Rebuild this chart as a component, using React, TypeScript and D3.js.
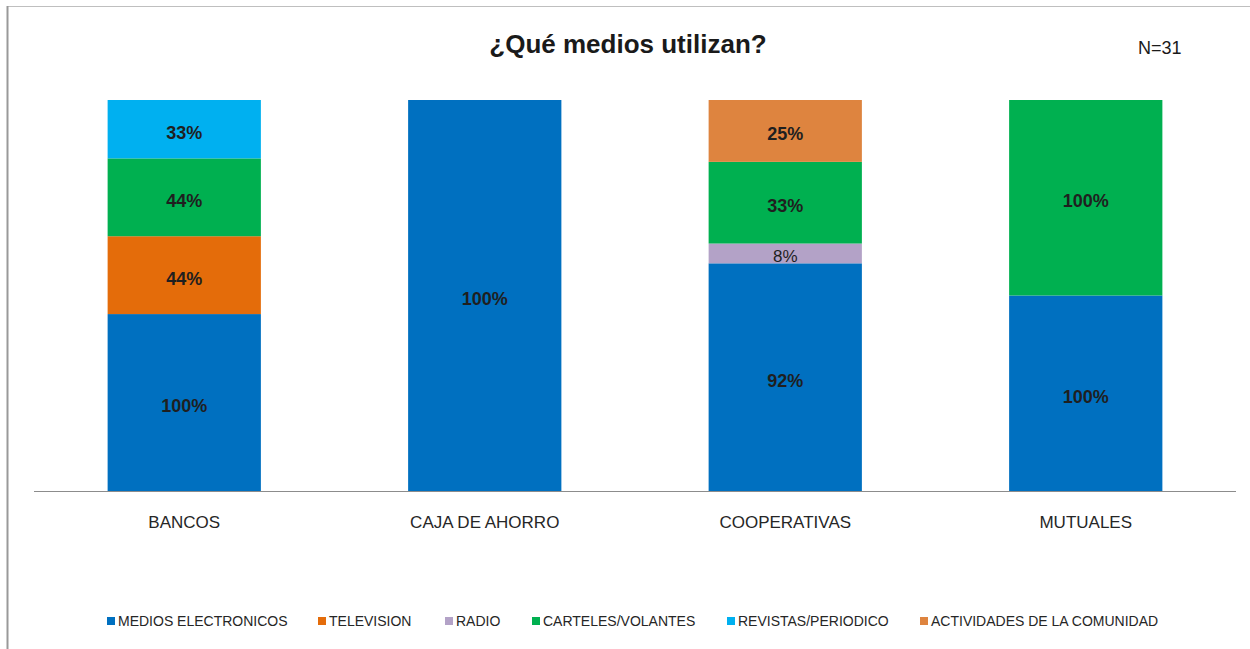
import * as d3 from 'd3';
import React, { useEffect, useRef } from 'react';

// categories and series values
const categories = ['BANCOS', 'CAJA DE AHORRO', 'COOPERATIVAS', 'MUTUALES'];
const seriesNames = [
  'MEDIOS ELECTRONICOS',
  'TELEVISION',
  'RADIO',
  'CARTELES/VOLANTES',
  'REVISTAS/PERIODICO',
  'ACTIVIDADES DE LA COMUNIDAD',
];
const mediosElectronicos = [100, 100, 92, 100];
const television = [44, 0, 0, 0];
const radio = [0, 0, 8, 0];
const carteles = [44, 0, 33, 100];
const revistas = [33, 0, 0, 0];
const actividades = [0, 0, 25, 0];
const seriesColors = ['#0070C0', '#E46C0A', '#B3A2C7', '#00B050', '#00B0F0', '#DE843F'];

const W = 1250;
const H = 649;
const FONT = "'Liberation Sans', Arial, sans-serif";

const App: React.FC = () => {
  const svgRef = useRef<SVGSVGElement>(null);

  useEffect(() => {
    if (!svgRef.current) return;
    const svg = d3.select(svgRef.current);
    svg.selectAll('*').remove();

    const seriesValues = [mediosElectronicos, television, radio, carteles, revistas, actividades];
    const rows = categories.map((c, i) => {
      const row: Record<string, any> = { cat: c };
      seriesNames.forEach((s, j) => (row[s] = seriesValues[j][i]));
      return row;
    });

    // 100% stacked: each bar normalised to its own total
    const stacked = d3.stack<Record<string, any>>()
      .keys(seriesNames)
      .offset(d3.stackOffsetExpand)(rows);

    // chart frame
    svg.append('rect').attr('width', W).attr('height', H).attr('fill', 'white');
    svg.append('line')
      .attr('x1', 7).attr('x2', W).attr('y1', 6.5).attr('y2', 6.5)
      .attr('stroke', '#BFBFBF').attr('stroke-width', 1.2);
    svg.append('line')
      .attr('x1', 7.5).attr('x2', 7.5).attr('y1', 6).attr('y2', H)
      .attr('stroke', '#999').attr('stroke-width', 2);

    const x = d3.scaleBand().domain(categories).range([34, 1236]).paddingInner(0.49).paddingOuter(0.245);
    const y = d3.scaleLinear().domain([0, 1]).range([491, 100]);
    const color = d3.scaleOrdinal<string, string>().domain(seriesNames).range(seriesColors);

    const layers = svg.append('g')
      .selectAll('g')
      .data(stacked)
      .join('g')
      .attr('fill', d => color(d.key));

    layers.selectAll('rect')
      .data(d => d.filter(p => p[1] - p[0] > 0))
      .join('rect')
      .attr('x', d => x(d.data.cat as string)!)
      .attr('width', x.bandwidth())
      .attr('y', d => y(d[1]))
      .attr('height', d => y(d[0]) - y(d[1]));

    // value labels
    stacked.forEach((layer, j) => {
      layer.forEach((p, i) => {
        const v = seriesValues[j][i];
        if (!v) return;
        const h = y(p[0]) - y(p[1]);
        svg.append('text')
          .attr('x', x(categories[i])! + x.bandwidth() / 2)
          .attr('y', (y(p[0]) + y(p[1])) / 2 + (h < 30 ? 8.5 : 9.5))
          .attr('text-anchor', 'middle')
          .style('font-family', FONT)
          .style('font-size', h < 30 ? '17px' : '18px')
          .style('font-weight', h < 30 ? 'normal' : 'bold')
          .attr('fill', '#1F1F1F')
          .text(`${v}%`);
      });
    });

    // x axis
    svg.append('line')
      .attr('x1', 34).attr('x2', 1236).attr('y1', 491.5).attr('y2', 491.5)
      .attr('stroke', '#8C8C8C').attr('stroke-width', 1.2);
    svg.append('g')
      .selectAll('text')
      .data(categories)
      .join('text')
      .attr('x', d => x(d)! + x.bandwidth() / 2)
      .attr('y', 528)
      .attr('text-anchor', 'middle')
      .style('font-family', FONT)
      .style('font-size', '17px')
      .attr('fill', '#262626')
      .text(d => d);

    // title
    svg.append('text')
      .attr('x', 628).attr('y', 53)
      .attr('text-anchor', 'middle')
      .style('font-family', FONT)
      .style('font-size', '26px')
      .style('font-weight', 'bold')
      .attr('fill', '#1A1A1A')
      .text('¿Qué medios utilizan?');

    svg.append('text')
      .attr('x', 1138).attr('y', 54)
      .style('font-family', FONT)
      .style('font-size', '18px')
      .attr('fill', '#1A1A1A')
      .text('N=31');

    // legend
    const legendX = [107, 318, 445, 532, 727, 920];
    const legend = svg.append('g')
      .selectAll('g')
      .data(seriesNames)
      .join('g')
      .attr('transform', (_, i) => `translate(${legendX[i]}, 621)`);
    legend.append('rect')
      .attr('x', 0).attr('y', -4).attr('width', 8).attr('height', 8)
      .attr('fill', d => color(d));
    legend.append('text')
      .attr('x', 11).attr('y', 5)
      .style('font-family', FONT)
      .style('font-size', '14px')
      .attr('fill', '#262626')
      .text(d => d);
  }, []);

  return (
    <svg
      ref={svgRef}
      width={W}
      height={H}
      style={{ position: 'absolute', left: 0, top: 0 }}
    />
  );
};

export default App;
